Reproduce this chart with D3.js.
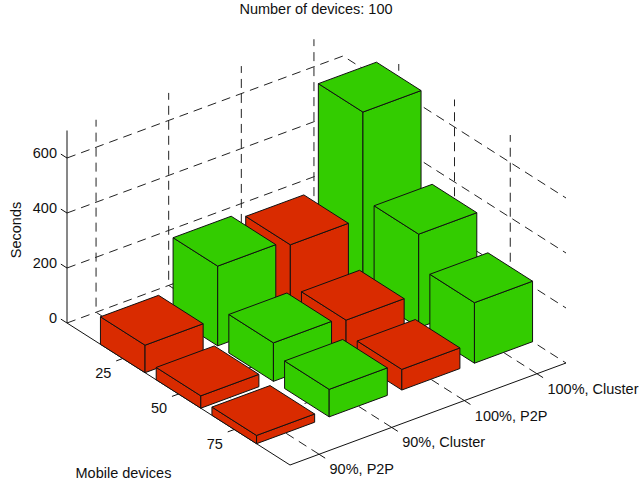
<!DOCTYPE html>
<html>
<head>
<meta charset="utf-8">
<script src="https://cdn.jsdelivr.net/npm/d3@7"></script>
<style>
  html, body { margin: 0; padding: 0; background: #fff; }
  text { font-family: "Liberation Sans", Arial, sans-serif; fill: #111; }
</style>
</head>
<body>
<svg id="chart" width="641" height="486"></svg>
<script>
const mobileDevices = [25, 50, 75];
const seriesLabels = ["90%, P2P", "90%, Cluster", "100%, P2P", "100%, Cluster"];
const seriesColors = ["#d92b00", "#33cc00", "#d92b00", "#33cc00"];
// one row per series, one value per mobile device count
const p2p90 = [100, 45, 30];
const cluster90 = [290, 140, 100];
const p2p100 = [270, 125, 75];
const cluster100 = [655, 340, 220];
const seconds = [p2p90, cluster90, p2p100, cluster100];
const zTicks = [0, 200, 400, 600];

const svg = d3.select("#chart");

// oblique projection: floor corners
const left = [67, 323], front = [290, 465], right = [566, 363];
const uScale = d3.scaleLinear().domain([0, 4]).range([0, 1]);
const vScale = d3.scaleLinear().domain([0.6, 4.4]).range([0, 1]);
const zScale = d3.scaleLinear().domain([0, 700]).range([0, 192.5]);

const project = (x, y, z) => {
  const u = uScale(x), v = vScale(y);
  return [
    left[0] + u * (front[0] - left[0]) + v * (right[0] - front[0]),
    left[1] + u * (front[1] - left[1]) + v * (right[1] - front[1]) - zScale(z)
  ];
};

const line = d3.line();
const xMin = 0, xMax = 4, yMin = 0.6, yMax = 4.4, zMax = 700;
const xTickVals = d3.range(1, mobileDevices.length + 1);
const yTickVals = d3.range(1, seriesLabels.length + 1);

// Grid
const gridLines = [];
zTicks.forEach(z => {
  gridLines.push([project(xMin, yMin, z), project(xMin, yMax, z), project(xMax, yMax, z)]);
});
xTickVals.forEach(x => {
  gridLines.push([project(x, yMin, 0), project(x, yMax, 0), project(x, yMax, zMax)]);
});
yTickVals.forEach(y => {
  gridLines.push([project(xMax, y, 0), project(xMin, y, 0), project(xMin, y, zMax)]);
});
svg.append("g").selectAll("path")
  .data(gridLines)
  .join("path")
  .attr("d", d => line(d))
  .attr("fill", "none")
  .attr("stroke", "#222")
  .attr("stroke-width", 1)
  .attr("stroke-dasharray", "9 6");

// Axes
const axisLines = [
  [project(xMin, yMin, 0), project(xMin, yMin, zMax)],
  [project(xMin, yMin, 0), project(xMax, yMin, 0), project(xMax, yMax, 0)]
];
zTicks.forEach(z => axisLines.push([project(xMin, yMin, z), project(xMin - 0.11, yMin, z)]));
xTickVals.forEach(x => axisLines.push([project(x, yMin, 0), project(x, yMin - 0.09, 0)]));
yTickVals.forEach(y => axisLines.push([project(xMax, y, 0), project(xMax + 0.11, y, 0)]));
svg.append("g").selectAll("path")
  .data(axisLines)
  .join("path")
  .attr("d", d => line(d))
  .attr("fill", "none")
  .attr("stroke", "#111")
  .attr("stroke-width", 1);

// Bars, back to front
const barWidth = 0.8;
const bars = [];
for (let s = seriesLabels.length - 1; s >= 0; s--) {
  mobileDevices.forEach((m, i) => {
    bars.push({ x: i + 1, y: s + 1, value: seconds[s][i], color: seriesColors[s] });
  });
}
const faces = b => {
  const x0 = b.x - barWidth / 2, x1 = b.x + barWidth / 2;
  const y0 = b.y - barWidth / 2, y1 = b.y + barWidth / 2;
  const h = b.value;
  return [
    [project(x0, y0, 0), project(x1, y0, 0), project(x1, y0, h), project(x0, y0, h)],
    [project(x1, y0, 0), project(x1, y1, 0), project(x1, y1, h), project(x1, y0, h)],
    [project(x0, y0, h), project(x1, y0, h), project(x1, y1, h), project(x0, y1, h)]
  ];
};
svg.append("g").selectAll("g")
  .data(bars)
  .join("g")
  .selectAll("path")
  .data(b => faces(b).map(f => ({ pts: f, color: b.color })))
  .join("path")
  .attr("d", d => line(d.pts) + "Z")
  .attr("fill", d => d.color)
  .attr("stroke", "#111")
  .attr("stroke-width", 1)
  .attr("stroke-linejoin", "round");

// Text
const fontSize = 14.5;
svg.append("text")
  .attr("x", 316).attr("y", 14)
  .attr("text-anchor", "middle")
  .attr("font-size", fontSize)
  .text("Number of devices: 100");

svg.append("g").selectAll("text")
  .data(zTicks)
  .join("text")
  .attr("x", 57)
  .attr("y", d => project(xMin, yMin, d)[1])
  .attr("text-anchor", "end")
  .attr("font-size", fontSize)
  .text(d => d);

svg.append("g").selectAll("text")
  .data(mobileDevices)
  .join("text")
  .attr("x", (d, i) => project(i + 1, yMin, 0)[0] - 19.5)
  .attr("y", (d, i) => project(i + 1, yMin, 0)[1] + 19)
  .attr("text-anchor", "middle")
  .attr("font-size", fontSize)
  .text(d => d);

svg.append("g").selectAll("text")
  .data(seriesLabels)
  .join("text")
  .attr("x", (d, i) => project(xMax, i + 1, 0)[0] + 10.5)
  .attr("y", (d, i) => project(xMax, i + 1, 0)[1] + 20)
  .attr("font-size", fontSize)
  .text(d => d);

svg.append("text")
  .attr("transform", "translate(21,230) rotate(-90)")
  .attr("text-anchor", "middle")
  .attr("font-size", fontSize)
  .text("Seconds");

svg.append("text")
  .attr("x", 75.5).attr("y", 478)
  .attr("font-size", fontSize)
  .text("Mobile devices");
</script>
</body>
</html>
